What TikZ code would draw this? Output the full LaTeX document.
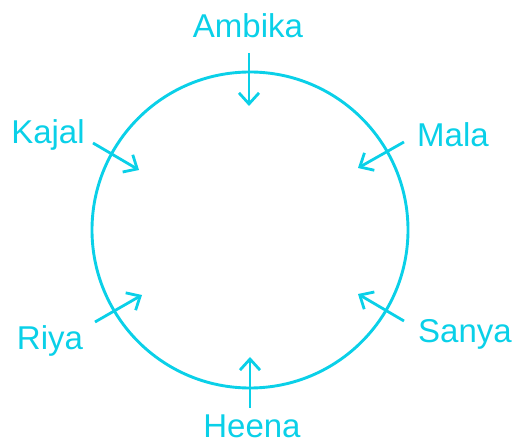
\documentclass[tikz,border=0pt]{standalone}
\usepackage{fontspec}
\setmainfont{Liberation Sans}
\usetikzlibrary{arrows.meta}
\definecolor{cy}{RGB}{10,208,232}
\begin{document}
\begin{tikzpicture}[x=1pt,y=-1pt,
  lbl/.style={anchor=base,text=cy,font=\fontsize{33}{33}\selectfont,inner sep=0pt},
  arr/.style={draw=cy,line width=2.8pt,-{Straight Barb[length=11pt,width=20pt,line width=2.8pt]}}]
\useasboundingbox (0,0) rectangle (515,446);
\draw[cy,line width=2.9pt] (250,230) circle[radius=158];
\node[lbl] (ambika) at (248,38) {Ambika};
\node[lbl] (kajal) at (48,144) {Kajal};
\node[lbl] (mala) at (453,147) {Mala};
\node[lbl] (riya) at (50,350) {Riya};
\node[lbl] (sanya) at (465,343) {Sanya};
\node[lbl] (heena) at (252,438) {Heena};
\coordinate (a1) at (249,53); \coordinate (a2) at (249,106);
\coordinate (k1) at (93,143); \coordinate (k2) at (139,170);
\coordinate (m1) at (404,142); \coordinate (m2) at (358,168);
\coordinate (r1) at (95,322); \coordinate (r2) at (142,295);
\coordinate (s1) at (404,321); \coordinate (s2) at (358,294);
\coordinate (h1) at (250,408); \coordinate (h2) at (250,357);
\draw[arr] (a1) -- (a2);
\draw[arr] (k1) -- (k2);
\draw[arr] (m1) -- (m2);
\draw[arr] (r1) -- (r2);
\draw[arr] (s1) -- (s2);
\draw[arr] (h1) -- (h2);
\end{tikzpicture}
\end{document}
